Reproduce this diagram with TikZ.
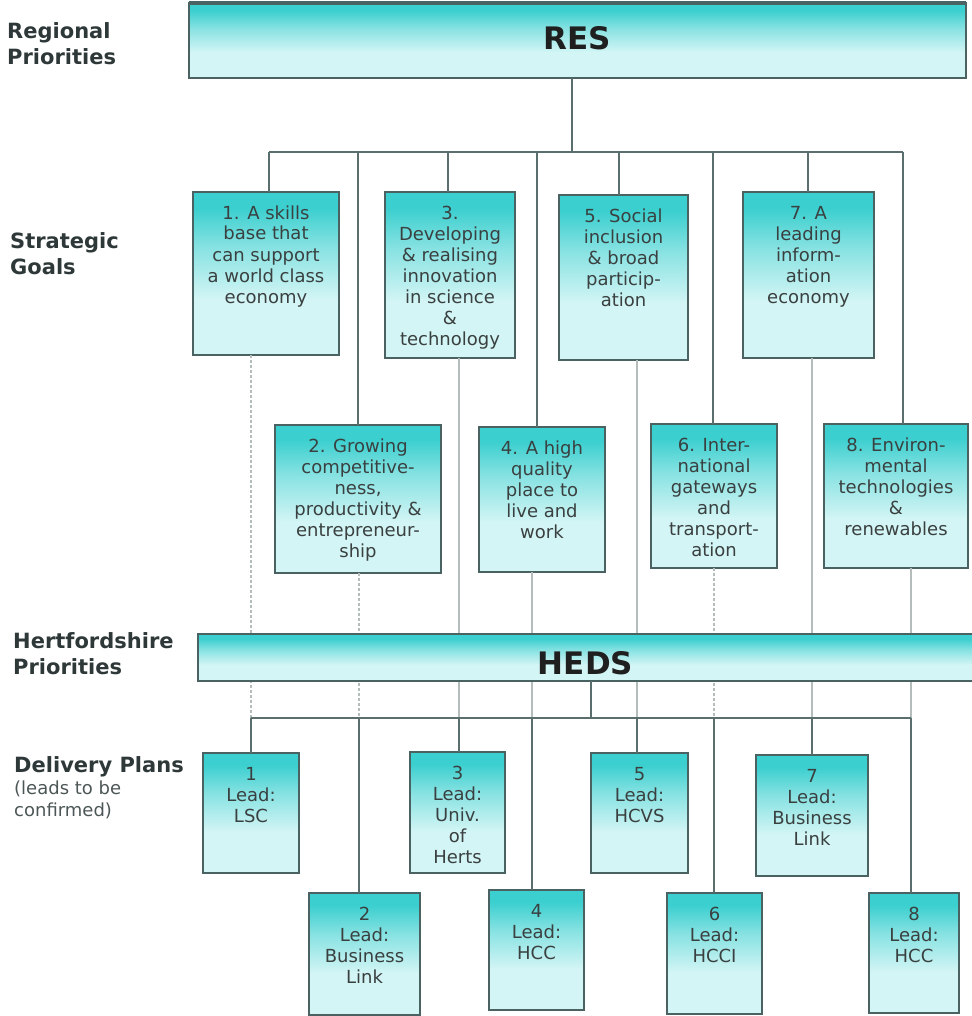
\documentclass[tikz,border=0pt]{standalone}
\usepackage{fontspec}
\setmainfont{DejaVu Sans}
\definecolor{tealtop}{HTML}{3CCFCF}
\definecolor{tealbot}{HTML}{D4F5F5}
\definecolor{edge}{HTML}{4A6262}
\definecolor{conn}{HTML}{5A6E6E}
\definecolor{faint}{HTML}{B4BCBC}
\definecolor{txt}{HTML}{3A4040}
\definecolor{lab}{HTML}{2E3838}
\pgfdeclareverticalshading{boxshade}{100bp}{color(0bp)=(tealbot); color(25bp)=(tealbot); color(42bp)=(tealbot); color(58bp)=(tealtop!50!tealbot); color(70bp)=(tealtop); color(100bp)=(tealtop)}
\newcommand{\bxt}[3]{\parbox[c][#2pt][t]{#1pt}{\centering\fontsize{18}{21}\selectfont\rule{0pt}{27pt}#3}}
\newcommand{\bigt}[4]{\parbox[c][#2pt][t]{#1pt}{\centering\fontsize{31}{36}\selectfont\bfseries\color{black!88}\rule{0pt}{#3pt}#4}}
\begin{document}
\begin{tikzpicture}[x=1pt,y=-1pt,
  box/.style={draw=edge, line width=1.6pt, shading=boxshade, inner sep=0pt, outer sep=0pt, anchor=north west, text=txt},
  link/.style={draw=conn, line width=1.8pt},
  thin link/.style={draw=faint, line width=1.5pt},
  dot link/.style={draw=faint, line width=1.5pt, dash pattern=on 3pt off 2pt},
  lab/.style={anchor=north west, inner sep=0pt, align=left, text=lab, font=\fontsize{21}{26}\selectfont\bfseries},
  small lab/.style={anchor=north west, inner sep=0pt, align=left, text=lab!85, font=\fontsize{18}{22}\selectfont}]
\useasboundingbox (0,0) rectangle (971,1016);
% left labels
\node[lab] (lreg) at (7,22) {Regional\\Priorities};
\node[lab] (lstr) at (10,232) {Strategic\\Goals};
\node[lab] (lher) at (13,632) {Hertfordshire\\Priorities};
\node[lab] (ldel) at (14,756) {Delivery Plans};
\node[small lab] (lleads) at (14,781) {(leads to be\\confirmed)};
% RES
\node[box] (res) at (189,3) {\bigt{777}{75}{47}{RES}};
\draw[edge, line width=4pt] (res.north west) -- (res.north east);
% goals
\node[box] (g1) at (193,192) {\bxt{146}{163}{1. A skills\\base that\\can support\\a world class\\economy}};
\node[box] (g3) at (385,192) {\bxt{130}{166}{3.\\Developing\\\& realising\\innovation\\in science\\\&\\technology}};
\node[box] (g5) at (559,195) {\bxt{129}{165}{5. Social\\inclusion\\\& broad\\particip-\\ation}};
\node[box] (g7) at (743,192) {\bxt{131}{166}{7. A\\leading\\inform-\\ation\\economy}};
\node[box] (g2) at (275,425) {\bxt{166}{148}{2. Growing\\competitive-\\ness,\\productivity \&\\entrepreneur-\\ship}};
\node[box] (g4) at (479,427) {\bxt{126}{145}{4. A high\\quality\\place to\\live and\\work}};
\node[box] (g6) at (651,424) {\bxt{126}{144}{6. Inter-\\national\\gateways\\and\\transport-\\ation}};
\node[box] (g8) at (824,424) {\bxt{144}{144}{8. Environ-\\mental\\technologies\\\&\\renewables}};
% plans
\node[box] (p1) at (203,753) {\bxt{96}{120}{1\\Lead:\\LSC}};
\node[box] (p3) at (410,752) {\bxt{95}{121}{3\\Lead:\\Univ.\\of\\Herts}};
\node[box] (p5) at (591,753) {\bxt{97}{120}{5\\Lead:\\HCVS}};
\node[box] (p7) at (756,755) {\bxt{112}{121}{7\\Lead:\\Business\\Link}};
\node[box] (p2) at (309,893) {\bxt{111}{122}{2\\Lead:\\Business\\Link}};
\node[box] (p4) at (489,890) {\bxt{95}{120}{4\\Lead:\\HCC}};
\node[box] (p6) at (667,893) {\bxt{95}{121}{6\\Lead:\\HCCI}};
\node[box] (p8) at (869,893) {\bxt{90}{120}{8\\Lead:\\HCC}};
% top tree
\coordinate (tb) at (572,152);
\coordinate (tbl) at (269,152);
\coordinate (tbr) at (903,152);
\draw[link] (res.south -| tb) -- (tb);
\draw[link] (tbl) -- (tbr);
\foreach \n/\x in {1/269,2/358,3/448,4/537,5/619,6/713,7/808,8/903}{
  \coordinate (d\n) at (\x,152);
  \draw[link] (d\n) -- (d\n |- g\n.north);
}
% lower bar coordinates
\coordinate (u1) at (251,718);
\coordinate (u2) at (359,718);
\coordinate (u3) at (459,718);
\coordinate (u4) at (532,718);
\coordinate (u5) at (637,718);
\coordinate (u6) at (714,718);
\coordinate (u7) at (812,718);
\coordinate (u8) at (911,718);
% faint lines from goals down to the delivery bar
\draw[dot link] (u1 |- g1.south) -- (u1);
\draw[dot link] (u2 |- g2.south) -- (u2);
\draw[thin link] (u3 |- g3.south) -- (u3);
\draw[thin link] (u4 |- g4.south) -- (u4);
\draw[thin link] (u5 |- g5.south) -- (u5);
\draw[dot link] (u6 |- g6.south) -- (u6);
\draw[thin link] (u7 |- g7.south) -- (u7);
\draw[thin link] (u8 |- g8.south) -- (u8);
% HEDS
\node[box] (heds) at (198,634) {\bigt{775}{47}{40}{HEDS}};
% lower tree
\coordinate (hs) at (591,718);
\draw[link] (heds.south -| hs) -- (hs);
\draw[link] (u1) -- (u8);
\foreach \n in {1,...,8}{
  \draw[link] (u\n) -- (u\n |- p\n.north);
}
\end{tikzpicture}
\end{document}
